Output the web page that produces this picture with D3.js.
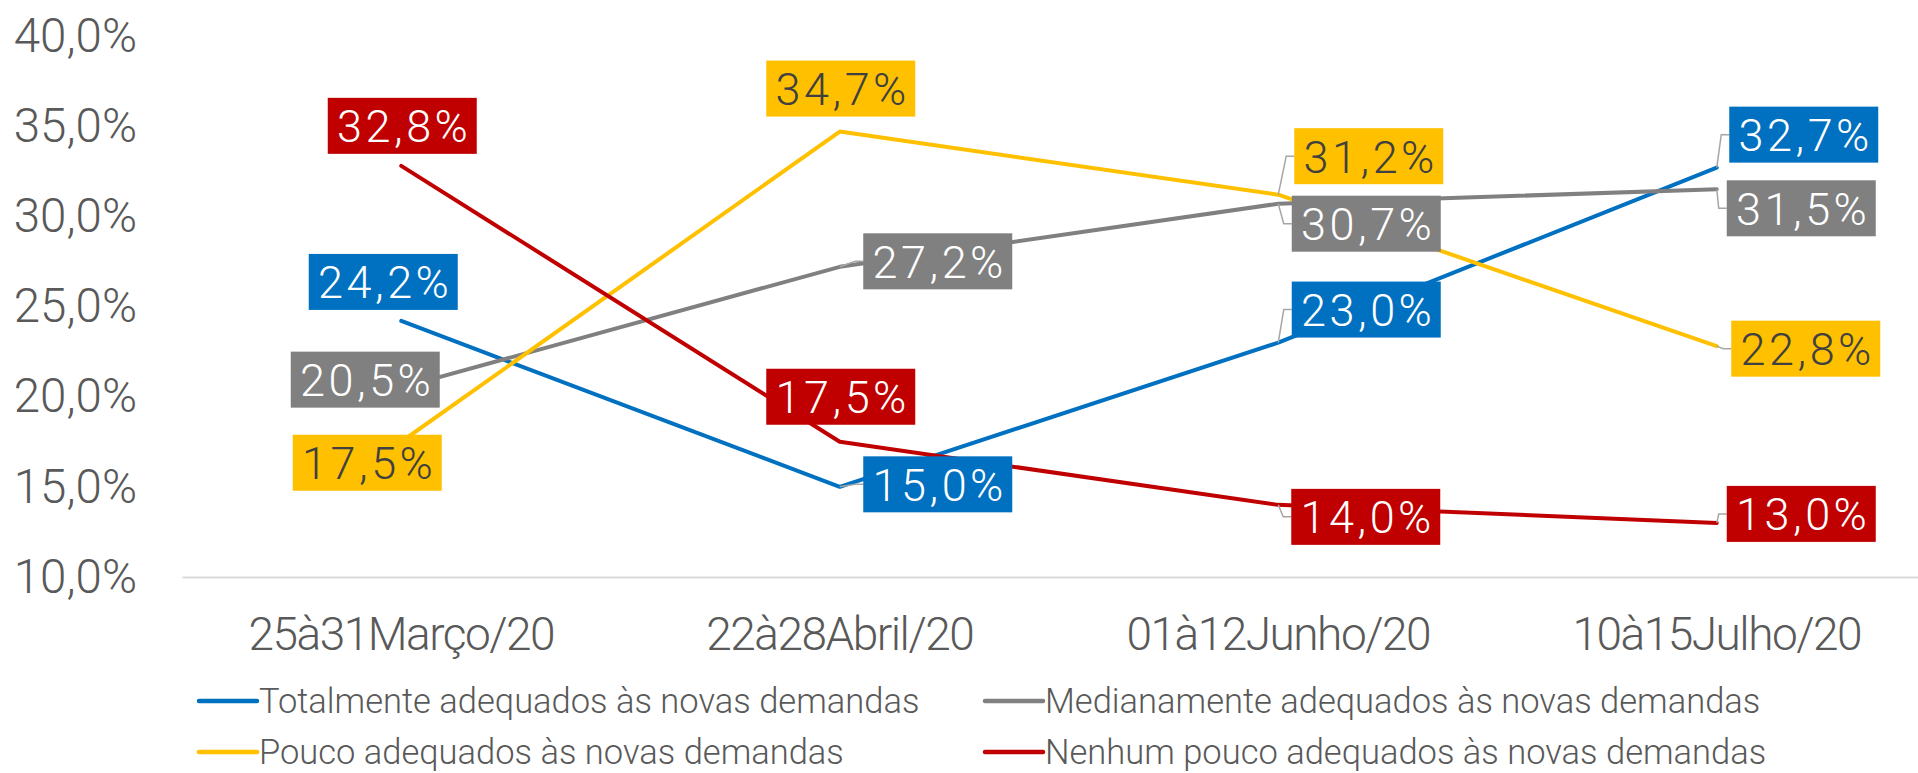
<!DOCTYPE html>
<html><head><meta charset="utf-8">
<script src="https://cdn.jsdelivr.net/npm/d3@7"></script>
<style>
html,body{margin:0;padding:0;background:#fff;}
svg{display:block;}
text{font-family:Roboto,"Noto Sans",sans-serif;font-weight:300;}
</style></head>
<body>
<svg id="chart" width="1918" height="773"></svg>
<script>
const categories = ["25à31Março/20","22à28Abril/20","01à12Junho/20","10à15Julho/20"];
const seriesNames = ["Totalmente adequados às novas demandas","Medianamente adequados às novas demandas","Pouco adequados às novas demandas","Nenhum pouco adequados às novas demandas"];
const totalmente = [24.2, 15.0, 23.0, 32.7];
const medianamente = [20.5, 27.2, 30.7, 31.5];
const pouco = [17.5, 34.7, 31.2, 22.8];
const nenhum = [32.8, 17.5, 14.0, 13.0];
const yTicks = [10, 15, 20, 25, 30, 35, 40];

// layout / style (not data)
const colors = ["#0070C0", "#808080", "#FFC000", "#C00000"];
const labelTextColors = ["#FFFFFF", "#FFFFFF", "#404040", "#FFFFFF"];
const labelOffsets = [
  [[-18,-39],[98,-2.5],[88,-33],[87,-33]],
  [[-36,-8],[98,-5.5],[88,20],[84.5,19]],
  [[-34,21],[1,-43],[90.5,-38.5],[89,2.5]],
  [[1,-40],[1,-45],[87.5,12],[84.5,-9]]
];
const leaders = [[0,1,1,1],[0,1,1,1],[0,0,1,1],[0,0,1,1]];

const seriesValues = [totalmente, medianamente, pouco, nenhum];
const svg = d3.select("#chart");
const textColor = "#595959";

const x = d3.scaleBand().domain(categories).range([182, 182 + 4*438.5]).padding(0);
const y = d3.scaleLinear().domain([10, 40]).range([577, 36]);
const fmt = v => d3.format(".1f")(v).replace(".", ",") + "%";

// y axis labels
const yAxis = d3.axisLeft(y).tickValues(yTicks).tickFormat(fmt).tickSize(0).tickPadding(0);
const gy = svg.append("g").attr("transform", "translate(137,0)").call(yAxis);
gy.select(".domain").remove();
gy.selectAll("text").attr("fill", textColor).style("font-size", "47.5px").style("font-family", "Roboto").style("font-weight", 300);

// x axis
const xAxis = d3.axisBottom(x).tickSize(0).tickPadding(0);
const gx = svg.append("g").attr("transform", `translate(0,${y(10)})`).call(xAxis);
gx.select(".domain").attr("stroke", "#D9D9D9").attr("stroke-width", 2);
gx.selectAll("text").attr("fill", textColor).attr("dy", null).attr("y", 57)
  .attr("dominant-baseline", "central")
  .style("font-size", "46px").style("font-family", "Roboto").style("font-weight", 300).style("letter-spacing", "-1.5px");

const cx = c => x(c) + x.bandwidth()/2;

// lines
const line = d3.line().x((d,i) => cx(categories[i])).y(d => y(d));
seriesValues.forEach((vals, s) => {
  svg.append("path").datum(vals).attr("d", line)
    .attr("fill", "none").attr("stroke", colors[s]).attr("stroke-width", 4)
    .attr("stroke-linejoin", "round").attr("stroke-linecap", "round");
});

// labels
const bw = 149, bh = 56;
seriesValues.forEach((vals, s) => {
  vals.forEach((v, i) => {
    const px = cx(categories[i]), py = y(v);
    const [dx, dy] = labelOffsets[s][i];
    const bx = px + dx, by = py + dy;
    if (leaders[s][i]) {
      const left = bx - bw/2;
      svg.append("path")
        .attr("d", d3.line()([[px, py], [left - 8, by], [left, by]]))
        .attr("fill", "none").attr("stroke", "#A6A6A6").attr("stroke-width", 1.5);
    }
  });
});
seriesValues.forEach((vals, s) => {
  vals.forEach((v, i) => {
    const px = cx(categories[i]), py = y(v);
    const [dx, dy] = labelOffsets[s][i];
    const bx = px + dx, by = py + dy;
    svg.append("rect").attr("x", bx - bw/2).attr("y", by - bh/2).attr("width", bw).attr("height", bh).attr("fill", colors[s]);
    svg.append("text").attr("x", bx + 2).attr("y", by + 1).attr("text-anchor", "middle").attr("dominant-baseline", "central")
      .attr("fill", labelTextColors[s]).style("font-size", "45px").style("letter-spacing", "3.5px").text(fmt(v));
  });
});

// legend
const legendPos = [[199, 701], [985, 701], [199, 752], [985, 752]];
seriesNames.forEach((name, s) => {
  const [lx, ly] = legendPos[s];
  const g = svg.append("g").attr("transform", `translate(${lx},${ly})`);
  g.append("line").attr("x1", 0).attr("x2", 58).attr("y1", 0).attr("y2", 0)
    .attr("stroke", colors[s]).attr("stroke-width", 4.5).attr("stroke-linecap", "round");
  g.append("text").attr("x", 60).attr("y", 0).attr("dominant-baseline", "central")
    .attr("fill", textColor).style("font-size", "34.5px").text(name);
});
</script>
</body></html>
